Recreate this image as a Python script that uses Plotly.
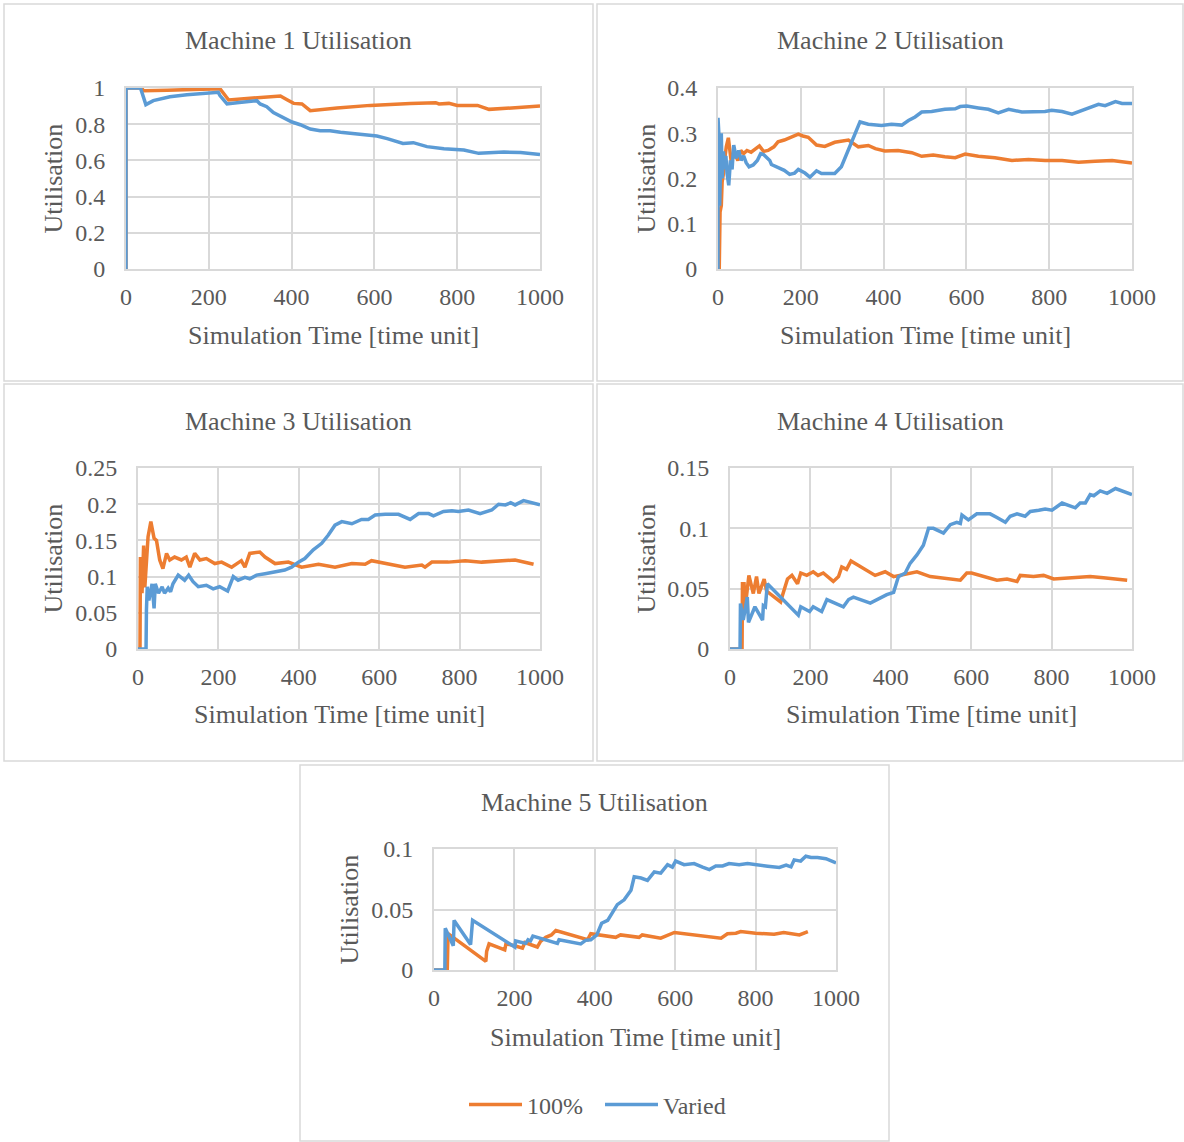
import plotly.graph_objects as go

# ---- Machine utilisation over simulation time: "100%" vs "Varied" scenarios ----

m1_full_t = [0, 0, 38, 42, 100, 160, 227, 248, 308, 373, 389, 405, 425, 445, 510, 590, 687, 748, 756, 780, 800, 849, 877, 937, 1000]
m1_full_u = [0, 1, 1, 0.985, 0.988, 0.991, 0.996, 0.934, 0.945, 0.956, 0.935, 0.915, 0.912, 0.875, 0.889, 0.904, 0.915, 0.919, 0.912, 0.915, 0.904, 0.904, 0.882, 0.889, 0.900]
m1_var_t = [0, 0, 35, 48, 66, 106, 147, 187, 223, 227, 244, 268, 316, 324, 340, 356, 381, 401, 421, 445, 469, 493, 518, 550, 590, 606, 631, 669, 694, 727, 768, 816, 852, 873, 913, 953, 1000]
m1_var_u = [0, 1, 1, 0.908, 0.930, 0.952, 0.963, 0.970, 0.976, 0.958, 0.912, 0.919, 0.930, 0.912, 0.897, 0.864, 0.838, 0.812, 0.797, 0.773, 0.764, 0.764, 0.755, 0.746, 0.735, 0.735, 0.720, 0.694, 0.698, 0.676, 0.665, 0.657, 0.639, 0.643, 0.646, 0.643, 0.632]

m2_full_t = [0, 3, 5, 8, 10, 13, 16, 20, 25, 28, 32, 36, 42, 48, 55, 62, 70, 80, 90, 100, 110, 121, 135, 145, 160, 169, 185, 194, 205, 218, 238, 258, 282, 315, 339, 363, 380, 403, 435, 468, 492, 520, 548, 573, 597, 629, 669, 710, 750, 790, 831, 871, 911, 952, 1000]
m2_full_u = [0, 0, 0.126, 0.14, 0.193, 0.21, 0.24, 0.27, 0.29, 0.26, 0.237, 0.25, 0.252, 0.24, 0.262, 0.255, 0.262, 0.258, 0.265, 0.272, 0.26, 0.262, 0.27, 0.281, 0.285, 0.288, 0.294, 0.298, 0.294, 0.291, 0.274, 0.271, 0.28, 0.285, 0.27, 0.273, 0.266, 0.261, 0.262, 0.257, 0.249, 0.252, 0.248, 0.246, 0.254, 0.249, 0.246, 0.240, 0.242, 0.240, 0.240, 0.236, 0.238, 0.240, 0.234]
m2_var_t = [0, 0, 2, 4, 6, 8, 10, 13, 16, 19, 22, 26, 30, 34, 38, 44, 50, 56, 62, 68, 75, 85, 95, 103, 110, 118, 125, 129, 145, 160, 173, 185, 194, 210, 222, 238, 250, 282, 298, 343, 363, 395, 419, 444, 460, 476, 492, 516, 548, 573, 585, 601, 629, 653, 677, 702, 734, 758, 790, 806, 831, 855, 879, 919, 935, 960, 976, 1000]
m2_var_u = [0, 0.334, 0.30, 0.14, 0.25, 0.30, 0.20, 0.26, 0.22, 0.25, 0.21, 0.185, 0.24, 0.22, 0.274, 0.245, 0.262, 0.24, 0.25, 0.235, 0.226, 0.23, 0.24, 0.255, 0.253, 0.245, 0.24, 0.231, 0.224, 0.218, 0.209, 0.212, 0.220, 0.212, 0.203, 0.217, 0.211, 0.211, 0.226, 0.325, 0.320, 0.317, 0.320, 0.318, 0.328, 0.336, 0.347, 0.348, 0.353, 0.354, 0.359, 0.360, 0.356, 0.353, 0.345, 0.353, 0.347, 0.348, 0.348, 0.351, 0.348, 0.342, 0.350, 0.364, 0.361, 0.370, 0.366, 0.366]

m3_full_t = [0, 5, 6, 10, 14, 17, 25, 32, 40, 46, 54, 62, 71, 79, 91, 108, 120, 129, 141, 154, 170, 191, 208, 233, 257, 266, 278, 303, 316, 341, 374, 407, 449, 490, 532, 565, 581, 615, 664, 706, 714, 731, 772, 814, 855, 938, 984]
m3_full_u = [0, 0, 0.127, 0.077, 0.143, 0.085, 0.155, 0.176, 0.153, 0.150, 0.123, 0.111, 0.132, 0.123, 0.127, 0.123, 0.127, 0.113, 0.132, 0.123, 0.125, 0.118, 0.120, 0.113, 0.122, 0.113, 0.132, 0.134, 0.127, 0.118, 0.120, 0.113, 0.117, 0.113, 0.118, 0.117, 0.122, 0.118, 0.113, 0.116, 0.113, 0.120, 0.120, 0.122, 0.120, 0.123, 0.117]
m3_var_t = [0, 20, 21, 23, 27, 35, 40, 43, 51, 60, 66, 75, 81, 87, 100, 116, 126, 137, 150, 170, 187, 203, 223, 237, 249, 266, 278, 295, 316, 341, 365, 382, 399, 415, 436, 457, 473, 490, 507, 532, 556, 573, 590, 615, 648, 677, 698, 723, 735, 760, 781, 797, 822, 851, 880, 897, 914, 927, 938, 959, 976, 1000]
m3_var_u = [0, 0, 0.054, 0.086, 0.067, 0.090, 0.056, 0.090, 0.077, 0.086, 0.077, 0.084, 0.079, 0.090, 0.102, 0.095, 0.102, 0.093, 0.086, 0.088, 0.083, 0.086, 0.080, 0.100, 0.095, 0.099, 0.097, 0.102, 0.104, 0.107, 0.109, 0.113, 0.120, 0.125, 0.137, 0.146, 0.157, 0.171, 0.176, 0.173, 0.179, 0.179, 0.185, 0.186, 0.186, 0.179, 0.187, 0.187, 0.184, 0.190, 0.191, 0.190, 0.192, 0.187, 0.192, 0.200, 0.199, 0.202, 0.199, 0.205, 0.202, 0.199]

m4_full_t = [0, 30, 31, 35, 38, 47, 58, 66, 72, 85, 91, 126, 131, 143, 154, 168, 176, 191, 207, 219, 232, 257, 270, 278, 290, 301, 361, 386, 407, 465, 498, 548, 573, 589, 601, 664, 689, 714, 722, 755, 780, 805, 855, 896, 929, 988]
m4_full_u = [0, 0, 0.054, 0.054, 0.035, 0.061, 0.046, 0.060, 0.046, 0.058, 0.048, 0.039, 0.045, 0.058, 0.061, 0.054, 0.063, 0.061, 0.064, 0.061, 0.063, 0.056, 0.060, 0.068, 0.066, 0.073, 0.061, 0.064, 0.060, 0.064, 0.060, 0.058, 0.057, 0.063, 0.063, 0.057, 0.058, 0.056, 0.061, 0.060, 0.061, 0.058, 0.059, 0.060, 0.059, 0.057]
m4_var_t = [0, 25, 26, 33, 43, 46, 62, 81, 83, 88, 93, 170, 176, 198, 207, 228, 241, 282, 295, 307, 349, 365, 390, 407, 419, 436, 448, 465, 481, 494, 506, 531, 548, 564, 573, 577, 593, 614, 647, 664, 685, 697, 714, 734, 747, 768, 784, 801, 826, 842, 859, 871, 884, 896, 905, 921, 938, 959, 976, 1000]
m4_var_u = [0, 0, 0.0376, 0.024, 0.043, 0.022, 0.035, 0.024, 0.036, 0.035, 0.054, 0.028, 0.035, 0.031, 0.035, 0.031, 0.041, 0.035, 0.041, 0.043, 0.038, 0.041, 0.045, 0.047, 0.060, 0.063, 0.071, 0.078, 0.086, 0.100, 0.100, 0.096, 0.103, 0.105, 0.104, 0.111, 0.107, 0.112, 0.112, 0.109, 0.105, 0.110, 0.112, 0.110, 0.114, 0.115, 0.116, 0.115, 0.121, 0.119, 0.117, 0.121, 0.121, 0.128, 0.127, 0.131, 0.129, 0.133, 0.131, 0.128]

m5_full_t = [0, 33, 35, 129, 131, 137, 176, 179, 201, 220, 226, 257, 265, 278, 292, 303, 382, 390, 452, 464, 510, 518, 564, 581, 598, 714, 730, 751, 763, 800, 846, 870, 909, 930]
m5_full_u = [0, 0, 0.030, 0.0071, 0.0154, 0.0216, 0.0167, 0.0216, 0.020, 0.018, 0.0227, 0.019, 0.0236, 0.027, 0.029, 0.0326, 0.025, 0.030, 0.027, 0.029, 0.027, 0.029, 0.0263, 0.029, 0.031, 0.0263, 0.030, 0.0304, 0.0318, 0.0304, 0.0296, 0.031, 0.029, 0.0318]
m5_var_t = [0, 27, 28, 48, 50, 91, 96, 201, 203, 228, 234, 240, 246, 307, 311, 365, 377, 390, 405, 417, 432, 440, 456, 473, 490, 498, 515, 531, 548, 564, 581, 593, 601, 622, 647, 668, 685, 701, 718, 734, 759, 780, 805, 830, 859, 876, 888, 896, 912, 925, 938, 954, 975, 1000]
m5_var_u = [0, 0, 0.0345, 0.020, 0.041, 0.021, 0.041, 0.019, 0.024, 0.022, 0.025, 0.024, 0.028, 0.022, 0.025, 0.0216, 0.0245, 0.025, 0.029, 0.0386, 0.041, 0.045, 0.054, 0.058, 0.066, 0.077, 0.076, 0.074, 0.081, 0.080, 0.087, 0.085, 0.090, 0.087, 0.088, 0.085, 0.083, 0.086, 0.086, 0.088, 0.087, 0.088, 0.0866, 0.0858, 0.0847, 0.0866, 0.0852, 0.091, 0.090, 0.094, 0.093, 0.093, 0.092, 0.0885]

x_ticks = [0, 200, 400, 600, 800, 1000]
y_ticks = [
    [0, 0.2, 0.4, 0.6, 0.8, 1],
    [0, 0.1, 0.2, 0.3, 0.4],
    [0, 0.05, 0.1, 0.15, 0.2, 0.25],
    [0, 0.05, 0.1, 0.15],
    [0, 0.05, 0.1],
]
y_tick_text = [
    ["0", "0.2", "0.4", "0.6", "0.8", "1"],
    ["0", "0.1", "0.2", "0.3", "0.4"],
    ["0", "0.05", "0.1", "0.15", "0.2", "0.25"],
    ["0", "0.05", "0.1", "0.15"],
    ["0", "0.05", "0.1"],
]
titles = ["Machine 1 Utilisation", "Machine 2 Utilisation", "Machine 3 Utilisation",
          "Machine 4 Utilisation", "Machine 5 Utilisation"]
series = [
    (m1_full_t, m1_full_u, m1_var_t, m1_var_u),
    (m2_full_t, m2_full_u, m2_var_t, m2_var_u),
    (m3_full_t, m3_full_u, m3_var_t, m3_var_u),
    (m4_full_t, m4_full_u, m4_var_t, m4_var_u),
    (m5_full_t, m5_full_u, m5_var_t, m5_var_u),
]

W, H = 1184, 1142
# plot-area rectangles (left, top, right, bottom) in pixels
plot_px = [
    (126, 88, 540, 269),
    (718, 88, 1132, 269),
    (138, 468, 540, 649),
    (730, 468, 1132, 649),
    (434, 849, 836, 970),
]
# outer chart frames
frame_px = [
    (4, 4, 593, 381),
    (597, 4, 1183, 381),
    (4, 384, 593, 761),
    (597, 384, 1183, 761),
    (300, 765, 889, 1141),
]
title_y = [41, 41, 421, 421, 802]
xtitle_y = [335, 335, 715, 715, 1037]
ytitle_x = [53, 646, 53, 646, 349]

ORANGE = "#ED7D31"
BLUE = "#5B9BD5"
GRID = "#D9D9D9"
TEXT = "#595959"
FONT = "Liberation Serif"


def px(x):
    return x / W


def py(y):
    return 1 - y / H


fig = go.Figure()
layout = dict(
    width=W, height=H,
    margin=dict(l=0, r=0, t=0, b=0, autoexpand=False),
    paper_bgcolor="white", plot_bgcolor="white",
    font=dict(family=FONT, color=TEXT, size=24),
    showlegend=True,
    legend=dict(orientation="h", x=px(464), y=py(1105), xanchor="left", yanchor="middle",
                font=dict(family=FONT, size=24, color=TEXT), itemwidth=53,
                entrywidth=68, entrywidthmode="pixels",
                bgcolor="rgba(0,0,0,0)", tracegroupgap=0),
)
shapes = []
annotations = []

for i in range(5):
    ax = "" if i == 0 else str(i + 1)
    l, t, r, b = plot_px[i]
    ft, fu, vt, vu = series[i]
    fig.add_trace(go.Scatter(x=ft, y=fu, mode="lines", name="100%",
                             line=dict(color=ORANGE, width=3.5), showlegend=(i == 4),
                             xaxis="x" + ax, yaxis="y" + ax))
    fig.add_trace(go.Scatter(x=vt, y=vu, mode="lines", name="Varied",
                             line=dict(color=BLUE, width=3.5), showlegend=(i == 4),
                             xaxis="x" + ax, yaxis="y" + ax))
    layout["xaxis" + ax] = dict(
        domain=[px(l), px(r)], range=[0, 1000], anchor="y" + ax,
        tickvals=x_ticks, ticktext=[str(v) for v in x_ticks],
        showgrid=True, gridcolor=GRID, gridwidth=2,
        showline=True, linecolor=GRID, linewidth=2, mirror=True,
        zeroline=False, ticks="", ticklabelstandoff=5, automargin=False,
        tickfont=dict(family=FONT, size=24, color=TEXT),
    )
    layout["yaxis" + ax] = dict(
        domain=[py(b), py(t)], range=[0, y_ticks[i][-1]], anchor="x" + ax,
        tickvals=y_ticks[i], ticktext=y_tick_text[i],
        showgrid=True, gridcolor=GRID, gridwidth=2,
        showline=True, linecolor=GRID, linewidth=2, mirror=True,
        zeroline=False, ticks="", ticklabelstandoff=14, automargin=False,
        tickfont=dict(family=FONT, size=24, color=TEXT),
    )
    fl, ftp, fr, fb = frame_px[i]
    shapes.append(dict(type="rect", xref="paper", yref="paper",
                       x0=px(fl), x1=px(fr), y0=py(fb), y1=py(ftp),
                       line=dict(color=GRID, width=1.5), layer="below"))
    annotations.append(dict(text=titles[i], xref="paper", yref="paper",
                            x=px((fl + fr) / 2), y=py(title_y[i]),
                            xanchor="center", yanchor="middle", showarrow=False,
                            font=dict(family=FONT, size=26, color=TEXT)))
    annotations.append(dict(text="Simulation Time [time unit]", xref="paper", yref="paper",
                            x=px((l + r) / 2), y=py(xtitle_y[i]),
                            xanchor="center", yanchor="middle", showarrow=False,
                            font=dict(family=FONT, size=26, color=TEXT)))
    annotations.append(dict(text="Utilisation", xref="paper", yref="paper",
                            x=px(ytitle_x[i]), y=py((t + b) / 2), textangle=-90,
                            xanchor="center", yanchor="middle", showarrow=False,
                            font=dict(family=FONT, size=26, color=TEXT)))

layout["shapes"] = shapes
layout["annotations"] = annotations
fig.update_layout(**layout)
fig.write_html("out.html")
